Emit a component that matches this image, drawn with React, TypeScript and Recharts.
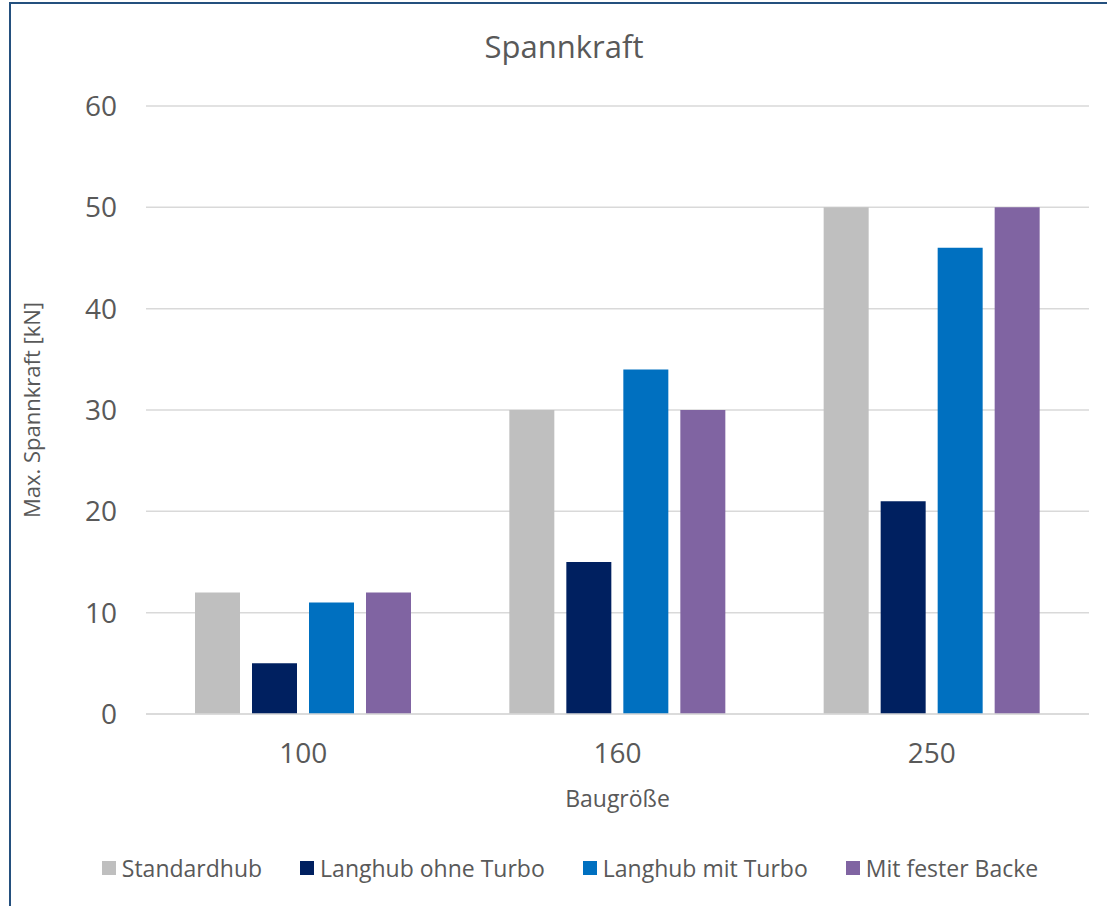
import { BarChart, Bar, XAxis, YAxis, CartesianGrid } from 'recharts';

const categories = ['100', '160', '250'];
const seriesNames = ['Standardhub', 'Langhub ohne Turbo', 'Langhub mit Turbo', 'Mit fester Backe'];
const seriesColors = ['#BFBFBF', '#002060', '#0070C0', '#8064A2'];
const standardhub = [12, 30, 50];
const langhubOhne = [5, 15, 21];
const langhubMit = [11, 34, 46];
const festeBacke = [12, 30, 50];
const yTicks = [0, 10, 20, 30, 40, 50, 60];

const seriesValues = [standardhub, langhubOhne, langhubMit, festeBacke];
const data = categories.map((c, i) => {
  const row: Record<string, string | number> = { name: c };
  seriesNames.forEach((s, j) => { row[s] = seriesValues[j][i]; });
  return row;
});

const FONT = '"Open Sans", sans-serif';
const TEXT = '#595959';

export default function App() {
  return (
    <div style={{ position: 'absolute', top: 0, left: 0, width: 1107, height: 906, overflow: 'hidden', background: '#fff', fontFamily: FONT }}>
      {/* chart frame */}
      <div style={{ position: 'absolute', left: 9, top: 2, width: 1130, height: 930, border: '2px solid #24507E', boxSizing: 'border-box' }} />

      <div style={{ position: 'absolute', left: 9, top: 25, width: 1110, textAlign: 'center', fontSize: 31, color: TEXT }}>
        Spannkraft
      </div>

      <div style={{ position: 'absolute', top: 0, left: 0 }}>
        <BarChart
          width={1107}
          height={906}
          data={data}
          margin={{ top: 106, right: 18, left: 0, bottom: 0 }}
          barCategoryGap={49}
          barGap={12}
        >
          <CartesianGrid vertical={false} stroke="#D9D9D9" strokeWidth={1.5} />
          <XAxis
            dataKey="name"
            height={192}
            tickLine={false}
            axisLine={{ stroke: '#D9D9D9', strokeWidth: 1.5 }}
            tickSize={6}
            tickMargin={23}
            tick={{ fontSize: 28, fill: TEXT, fontFamily: FONT }}
            label={{ value: 'Baugröße', position: 'insideTop', offset: 77, style: { fontSize: 23, fill: TEXT, fontFamily: FONT } }}
          />
          <YAxis
            width={146}
            domain={[0, 60]}
            ticks={yTicks}
            tickLine={false}
            axisLine={false}
            tickSize={0}
            tickMargin={29}
            tick={{ fontSize: 28, fill: TEXT, fontFamily: FONT }}
            label={{ value: 'Max. Spannkraft [kN]', angle: -90, position: 'insideLeft', offset: 32, style: { textAnchor: 'middle', fontSize: 22, fill: TEXT, fontFamily: FONT } }}
          />
          {seriesNames.map((s, i) => (
            <Bar key={s} dataKey={s} fill={seriesColors[i]} isAnimationActive={false} />
          ))}
        </BarChart>
      </div>

      {/* legend */}
      <div style={{ position: 'absolute', left: 9, top: 852, width: 1122, display: 'flex', justifyContent: 'center', gap: 38, fontSize: 23, color: TEXT }}>
        {seriesNames.map((s, i) => (
          <div key={s} style={{ display: 'flex', alignItems: 'center', gap: 6 }}>
            <div style={{ width: 14, height: 14, background: seriesColors[i] }} />
            <span>{s}</span>
          </div>
        ))}
      </div>
    </div>
  );
}
